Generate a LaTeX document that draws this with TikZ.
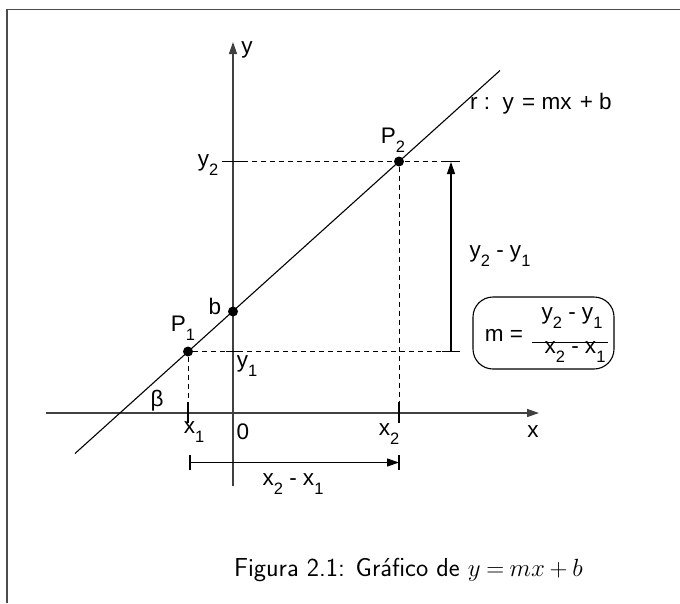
\documentclass[tikz,border=0pt]{standalone}
\usepackage{fontspec}
\newfontfamily\lab{Liberation Sans}
\usetikzlibrary{arrows.meta}
\newcommand{\sbs}[1]{\raisebox{-9pt}{\fontsize{16.5}{16.5}\selectfont #1}}
\begin{document}
\begin{tikzpicture}[x=1pt,y=-1pt,
  lbl/.style={font=\lab\fontsize{22.5}{24}\selectfont, inner sep=0pt},
  ax/.style={line width=1.4pt, black!75},
  dsh/.style={line width=1pt, dash pattern=on 5pt off 4pt},
  tk/.style={line width=1.2pt},
  dot/.style={circle, fill, inner sep=0pt, minimum size=10pt},
  tip/.style={-{Triangle[length=12pt,width=8pt]}},
  fr/.style={line width=1.5pt, black!70}]
\useasboundingbox (0,0) rectangle (680,603);
% frame
\coordinate (f1) at (680,9.5); \coordinate (f2) at (7,9.5); \coordinate (f3) at (7,603);
\draw[fr] (f1) -- (f2) -- (f3);
% axes
\coordinate (yb) at (233,486); \coordinate (yt) at (233,42);
\coordinate (xl) at (46,413); \coordinate (xr) at (539,413);
\draw[ax,tip] (yb) -- (yt);
\draw[ax,tip] (xl) -- (xr);
% line
\coordinate (la) at (75,453.5); \coordinate (lb) at (500,70.5);
\draw[line width=1.1pt] (la) -- (lb);
% points
\node[dot] (P1) at (188,351.5) {};
\node[dot] (B) at (233,311.5) {};
\node[dot] (P2) at (399,161.5) {};
% y2 level
\coordinate (y2a) at (222,161.5); \coordinate (y2b) at (243,161.5);
\coordinate (y2c) at (442,161.5); \coordinate (y2d) at (460,161.5);
\draw[tk] (y2a) -- (y2b);
\draw[dsh] (y2b) -- (y2c);
\draw[tk] (y2c) -- (y2d);
% y1 level
\coordinate (y1a) at (226,351.5); \coordinate (y1b) at (240,351.5);
\coordinate (y1c) at (442,351.5); \coordinate (y1d) at (460,351.5);
\draw[dsh] (P1) -- (y1c);
\draw[tk] (y1a) -- (y1b);
\draw[tk] (y1c) -- (y1d);
% x1 and x2 verticals
\coordinate (x1a) at (188,402); \coordinate (x1b) at (188,423);
\coordinate (x2a) at (399,402); \coordinate (x2b) at (399,423);
\draw[dsh] (P1) -- (x1a);
\draw[tk] (x1a) -- (x1b);
\draw[dsh] (P2) -- (x2a);
\draw[tk] (x2a) -- (x2b);
% y2 - y1 arrow
\coordinate (va) at (451,351.5); \coordinate (vb) at (451,162);
\draw[line width=1.1pt,tip] (va) -- (vb);
% x2 - x1 arrow
\coordinate (ha) at (190,462.5); \coordinate (hb) at (399,462.5);
\coordinate (ht1) at (190,455); \coordinate (ht2) at (190,470);
\coordinate (ht3) at (399,455); \coordinate (ht4) at (399,470);
\draw[line width=1.1pt,tip] (ha) -- (hb);
\draw[tk] (ht1) -- (ht2);
\draw[tk] (ht3) -- (ht4);
% labels
\node[lbl] (ly) at (247,50) {y};
\node[lbl,anchor=west] (lr) at (470,104) {r :\ \ y\hspace{2pt} = mx\hspace{2pt} + b};
\node[lbl] (lP2) at (393,140) {P\sbs{2}};
\node[lbl] (ly2) at (208,165) {y\sbs{2}};
\node[lbl] (ldy) at (500,256) {y\sbs{2} - y\sbs{1}};
\node[lbl] (lb) at (215,306) {b};
\node[lbl] (lP1) at (183,328) {P\sbs{1}};
\node[lbl] (ly1) at (247,366) {y\sbs{1}};
\node[lbl] (lbeta) at (157,401) {β};
\node[lbl] (lx1) at (194,432) {x\sbs{1}};
\node[lbl] (l0) at (243,432) {0};
\node[lbl] (lx2) at (389,434) {x\sbs{2}};
\node[lbl] (lx) at (533,432) {x};
\node[lbl] (ldx) at (293,484) {x\sbs{2} - x\sbs{1}};
% slope box
\draw[line width=1.1pt, rounded corners=20pt] (473,297) rectangle (614,369);
\node[lbl] (lm) at (504,335) {m =};
\node[lbl] (lnum) at (572,318) {y\sbs{2} - y\sbs{1}};
\node[lbl] (lden) at (575,352) {x\sbs{2} - x\sbs{1}};
\coordinate (fa) at (532,342); \coordinate (fb) at (608,342);
\draw[line width=1pt] (fa) -- (fb);
% caption
\node[font=\sffamily\fontsize{26}{30}\selectfont, inner sep=0pt, anchor=east] (cap) at (583,570) {Figura 2.1: Gráfico de $\thickmuskip=4mu\medmuskip=3.5mu y = mx + b$};
\end{tikzpicture}
\end{document}
